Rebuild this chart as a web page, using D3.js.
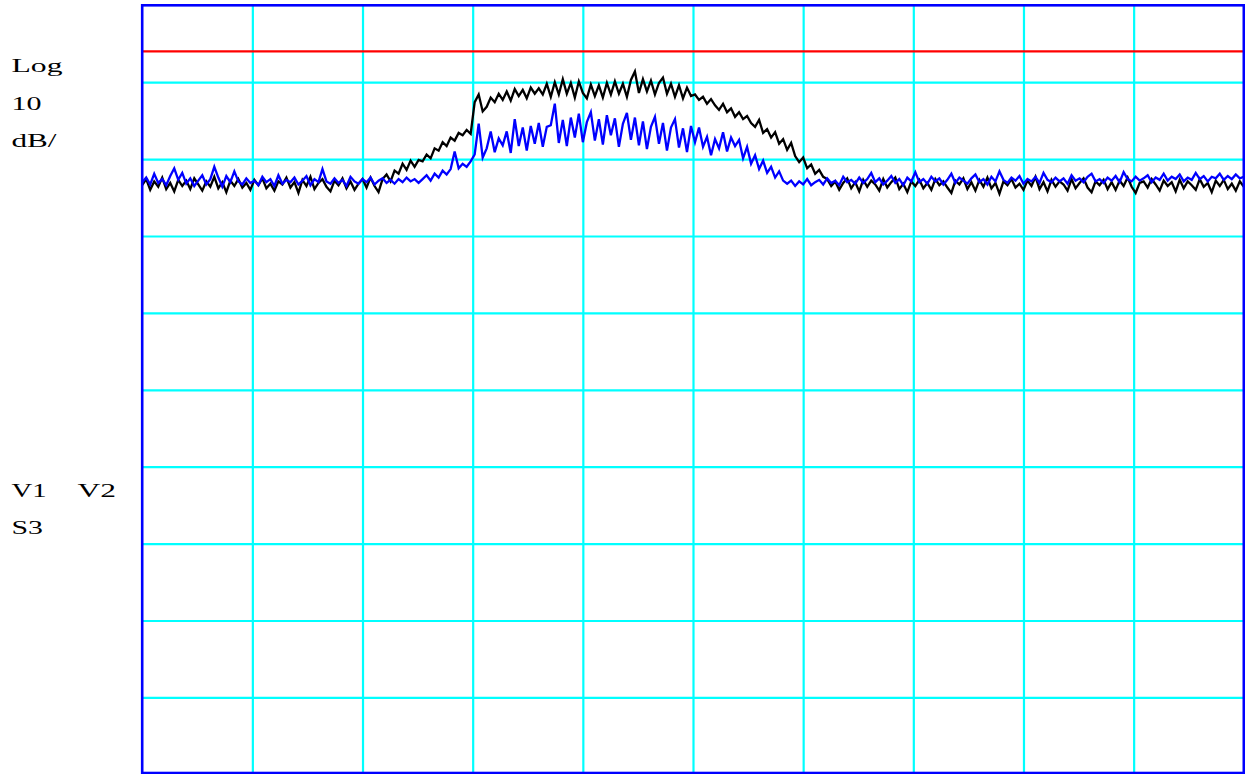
<!DOCTYPE html>
<html>
<head>
<meta charset="utf-8">
<script src="https://cdn.jsdelivr.net/npm/d3@7"></script>
<style>
  html, body { margin: 0; padding: 0; background: #ffffff; }
  svg { display: block; }
</style>
</head>
<body>
<svg id="chart" width="1245" height="774"></svg>
<script>
// Spectrum display: 10 dB/div log scale, 10 horizontal divisions, 276 trace points.
const refTop = 0;          // dB at top graticule
const dbPerDiv = 10;
const yDivisions = 10;
const xDivisions = 10;
const displayLine = -6;    // dB, red display line

// Trace 1 (black) amplitudes, dB
const trace1 = [
  -23.4,-22.6,-24.0,-22.9,-23.6,-22.4,-23.9,-23.1,-24.2,-22.7,
  -23.5,-22.8,-23.9,-22.5,-23.3,-24.1,-22.9,-23.6,-22.3,-23.8,
  -23.0,-24.3,-22.8,-23.5,-22.6,-23.7,-23.1,-24.0,-22.7,-23.4,
  -22.5,-23.8,-23.2,-24.1,-22.9,-23.3,-22.4,-23.7,-23.0,-24.4,
  -22.7,-23.5,-22.3,-23.9,-23.1,-22.6,-23.6,-24.2,-22.8,-23.4,
  -22.5,-23.8,-22.9,-24.0,-23.2,-22.6,-23.7,-22.4,-23.5,-24.3,
  -22.6,-22.0,-22.9,-21.5,-21.9,-20.6,-21.4,-20.2,-21.0,-20.1,
  -20.3,-19.4,-19.9,-18.6,-18.9,-17.8,-18.3,-17.2,-17.6,-16.6,-16.9,-16.2,-16.7,
  -12.6,-11.6,-13.8,
  -13.2,-12.0,-12.6,-11.5,-12.3,-11.2,-12.4,-10.9,-11.8,-11.0,-12.1,-10.7,-11.5,-10.8,-11.6,
  -10.2,-11.9,-10.0,-11.6,-9.6,-11.5,-10.1,-12.0,-9.9,-11.4,
  -12.1,-10.3,-11.8,-10.4,-12.0,-10.1,-11.6,-9.9,-11.5,-10.2,
  -11.9,-9.7,-8.6,-11.4,-9.6,-11.2,-9.8,-11.6,-10.1,-9.4,
  -11.5,-10.2,-11.9,-10.4,-12.1,-10.7,-11.8,
  -11.6,-12.3,-11.9,-12.8,-12.2,-13.0,-13.6,-12.8,-13.9,-13.4,-14.5,-13.9,-14.8,
  -14.4,-15.3,-15.8,-14.9,-16.6,-16.1,-17.2,-16.5,-18.0,-17.4,
  -18.8,-17.9,-19.6,-20.4,-19.8,-21.2,-20.7,-21.9,-21.4,-22.3,
  -22.6,-23.5,-22.9,-24.0,-23.1,-22.5,-23.8,-23.0,-24.2,-22.7,
  -23.6,-22.8,-23.3,-24.1,-22.6,-23.7,-23.0,-22.4,-23.9,-23.2,
  -24.3,-22.9,-23.5,-22.7,-23.8,-23.1,-24.0,-22.6,-23.4,-22.9,
  -23.7,-24.4,-22.8,-23.3,-22.5,-23.9,-23.0,-24.1,-22.7,-23.6,
  -22.4,-23.8,-23.1,-24.5,-22.9,-23.4,-22.6,-23.7,-23.2,-24.0,
  -22.8,-23.5,-22.3,-23.9,-23.0,-24.2,-22.7,-23.6,-22.9,-23.3,
  -24.1,-22.6,-23.8,-23.1,-22.5,-23.7,-24.3,-22.9,-23.4,-22.7,
  -23.9,-23.0,-24.0,-22.8,-23.5,-22.4,-23.6,-24.4,-23.1,-22.9,
  -23.7,-22.6,-23.3,-24.1,-22.8,-23.5,-23.0,-24.2,-22.7,-23.8,
  -22.9,-23.4,-24.0,-22.6,-23.6,-23.1,-24.3,-22.8,-23.5,-22.7,
  -23.9,-23.2,-24.1,-22.9,-23.6
];

// Trace 2 (blue) amplitudes, dB
const trace2 = [
  -23.0,-22.4,-23.3,-21.9,-23.1,-22.6,-23.4,-22.2,-21.2,-22.7,
  -21.8,-23.2,-22.5,-23.5,-22.8,-22.1,-23.3,-22.6,-21.0,-22.4,
  -23.6,-22.2,-23.0,-21.6,-22.9,-23.3,-22.5,-23.1,-22.8,-23.4,
  -22.3,-23.0,-22.6,-23.5,-22.1,-23.2,-22.7,-23.0,-22.4,-23.3,
  -22.8,-22.2,-23.4,-22.6,-23.0,-21.3,-22.9,-23.2,-22.5,-23.1,
  -22.7,-23.5,-22.3,-22.9,-23.2,-22.6,-23.0,-22.4,-23.3,-22.8,
  -22.5,-23.1,-22.7,-23.2,-22.6,-23.0,-22.4,-22.9,-22.6,-23.1,
  -22.6,-22.1,-22.8,-21.9,-22.4,-21.5,-22.0,-21.3,-19.0,-21.2,-20.6,-21.0,-20.3,
  -19.4,-15.4,-19.8,-18.6,-16.4,-19.1,-17.3,-18.2,
  -16.4,-19.2,-14.8,-18.3,-15.9,-18.9,-15.7,-18.0,-15.3,-18.4,-15.8,
  -15.6,-12.8,-17.9,-14.9,-18.3,-14.6,-17.2,-14.1,-17.8,-15.2,
  -13.9,-17.6,-14.8,-18.1,-14.3,-16.9,-14.7,-18.4,-15.4,-14.0,
  -17.5,-14.6,-18.2,-15.1,-18.7,-15.8,-14.5,-18.0,-15.3,-18.9,
  -15.9,-14.8,-18.5,-16.0,-19.1,-15.7,
  -17.8,-15.9,-18.4,-17.1,-19.5,-17.4,-18.6,-16.5,-19.0,-17.2,-18.3,-17.5,-19.9,-18.4,-20.6,
  -19.5,-21.3,-20.2,-21.8,-21.0,-22.4,-21.6,-22.8,
  -23.2,-22.8,-23.5,-22.9,-23.3,-22.6,-23.4,-23.0,-22.7,-23.3,
  -22.5,-23.1,-22.8,-23.4,-22.3,-23.0,-22.7,-23.2,-22.4,-23.1,
  -22.6,-21.8,-23.0,-22.5,-23.3,-22.8,-22.2,-23.1,-22.6,-23.4,
  -22.4,-22.9,-21.7,-23.0,-22.6,-23.2,-22.3,-22.9,-22.5,-23.3,
  -22.7,-21.9,-23.1,-22.4,-22.8,-23.2,-22.5,-22.0,-23.0,-22.6,
  -23.3,-22.3,-22.9,-21.6,-22.7,-23.1,-22.4,-22.8,-22.2,-23.2,
  -22.6,-22.9,-22.3,-23.1,-21.8,-22.7,-23.0,-22.4,-22.9,-22.5,
  -23.2,-22.1,-22.8,-22.5,-23.0,-22.3,-21.9,-22.9,-22.6,-23.1,
  -22.4,-22.8,-22.2,-23.0,-21.7,-22.6,-22.9,-22.3,-22.8,-22.5,
  -22.1,-23.0,-22.4,-22.7,-21.9,-22.8,-22.3,-22.6,-22.0,-22.9,
  -22.4,-22.7,-21.8,-22.6,-22.2,-22.9,-22.3,-22.5,-21.9,-22.7,
  -22.2,-22.6,-22.0,-22.5,-22.3
];

// Annotation text down the left side
const scaleLabels = ["Log", "10", "dB/"];
const traceLabels = ["V1", "V2"];
const sweepLabels = ["S3"];

const svg = d3.select("#chart");
const plotLeft = 142.2, plotRight = 1243.8, plotTop = 5.3, plotBottom = 774.3;

const xDiv = d3.scaleLinear().domain([0, xDivisions]).range([plotLeft, plotRight]);
const xPt = d3.scaleLinear().domain([0, trace1.length - 1]).range([plotLeft, plotRight]);
const y = d3.scaleLinear()
  .domain([refTop, refTop - dbPerDiv * yDivisions])
  .range([plotTop, plotBottom]);

// Graticule via axes with full-length ticks
const gx = svg.append("g")
  .attr("transform", `translate(0,${plotTop})`)
  .call(d3.axisBottom(xDiv).tickValues(d3.range(1, xDivisions)).tickSize(plotBottom - plotTop).tickFormat(""));
const gy = svg.append("g")
  .attr("transform", `translate(${plotLeft},0)`)
  .call(d3.axisRight(y)
    .tickValues(d3.range(1, yDivisions).map(k => refTop - k * dbPerDiv))
    .tickSize(plotRight - plotLeft).tickFormat(""));
[gx, gy].forEach(g => {
  g.select(".domain").remove();
  g.selectAll(".tick line").attr("stroke", "#00ffff").attr("stroke-width", 2.2);
});

// Display line
svg.append("line")
  .attr("x1", plotLeft).attr("x2", plotRight)
  .attr("y1", y(displayLine)).attr("y2", y(displayLine))
  .attr("stroke", "#ff0000").attr("stroke-width", 2.2);

const line = d3.line().x((d, i) => xPt(i)).y(d => y(d));

svg.append("path").datum(trace1)
  .attr("d", line).attr("fill", "none")
  .attr("stroke", "#000000").attr("stroke-width", 2.3).attr("stroke-linejoin", "miter");
svg.append("path").datum(trace2)
  .attr("d", line).attr("fill", "none")
  .attr("stroke", "#0000ff").attr("stroke-width", 2.3).attr("stroke-linejoin", "miter");

// Screen frame
svg.append("rect")
  .attr("x", plotLeft).attr("y", plotTop)
  .attr("width", plotRight - plotLeft).attr("height", 773 - plotTop)
  .attr("fill", "none").attr("stroke", "#0000ff").attr("stroke-width", 2.6);

// Left-side annotations
const font = "'Liberation Serif', 'Times New Roman', serif";
const txt = svg.append("g").attr("font-family", font).attr("font-size", 19).attr("fill", "#000");
const scaleWidths = [51, 30, 45];
scaleLabels.forEach((s, i) => {
  txt.append("text").attr("x", 11.5).attr("y", 72 + i * 37.7)
    .attr("textLength", scaleWidths[i]).attr("lengthAdjust", "spacingAndGlyphs").text(s);
});
const traceX = [11.5, 77.5];
traceLabels.forEach((s, i) => {
  txt.append("text").attr("x", traceX[i]).attr("y", 497)
    .attr("textLength", i === 0 ? 35 : 38.5).attr("lengthAdjust", "spacingAndGlyphs").text(s);
});
sweepLabels.forEach(s => {
  txt.append("text").attr("x", 11.5).attr("y", 534)
    .attr("textLength", 31.5).attr("lengthAdjust", "spacingAndGlyphs").text(s);
});
</script>
</body>
</html>
